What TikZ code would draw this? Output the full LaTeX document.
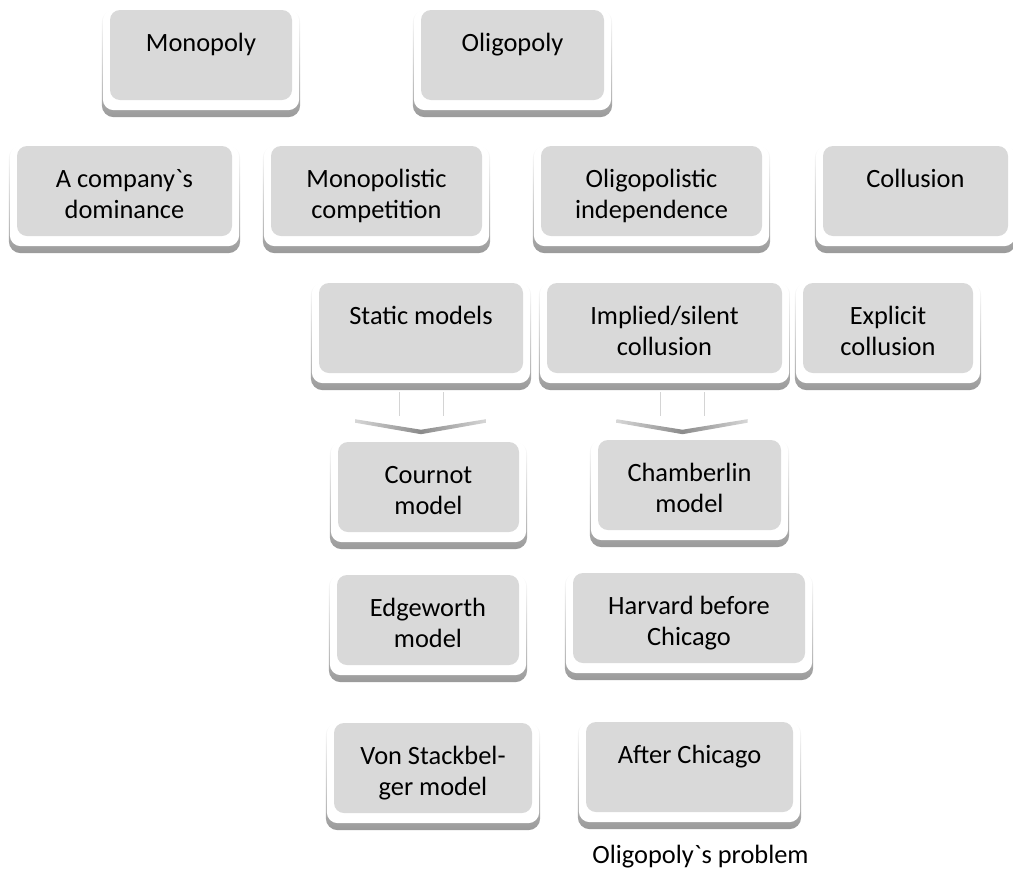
\documentclass[tikz,border=0pt]{standalone}
\usepackage{fontspec}
\setmainfont{Carlito}[Ligatures=TeXOff]
\usetikzlibrary{calc,backgrounds}
\definecolor{boxgray}{HTML}{D9D9D9}
\definecolor{shadowgray}{HTML}{9A9A9A}
\definecolor{shaftgray}{HTML}{D4D4D4}
% grey card text: top-anchored, centred, fixed height
\newcommand\cardtext[2]{\parbox[c][90pt][t]{#1}{\centering\rule{0pt}{41pt}#2\par}}
\begin{document}
\begin{tikzpicture}[x=1pt,y=-1pt,
  card/.style={fill=boxgray, rounded corners=10pt, inner sep=0pt,
    font=\fontsize{26.4}{31}\selectfont},
  shaftline/.style={draw=shaftgray, line width=1pt},
  downarrow/.pic={
    \draw[shaftline] (-22,19) -- (-22,43);
    \draw[shaftline] (22,19) -- (22,43);
    \shade[left color=shadowgray!40, right color=shadowgray!40, middle color=shadowgray!90!black]
      (-66,46) -- (0,56.5) -- (65,46) -- (65,49.5) -- (0,61) -- (-66,49.5) -- cycle;
  }]
\useasboundingbox (0,0) rectangle (1013,871);

% row 1
\node[card] (mono) at (201,55)   {\cardtext{182pt}{Monopoly}};
\node[card] (oli)  at (512.5,55) {\cardtext{183pt}{Oligopoly}};
% row 2
\node[card] (dom)   at (124.5,191) {\cardtext{215pt}{A company`s\\dominance}};
\node[card] (mcomp) at (376.5,191) {\cardtext{211pt}{Monopolistic\\competition}};
\node[card] (oind)  at (651.5,191) {\cardtext{221pt}{Oligopolistic\\independence}};
\node[card] (coll)  at (915.5,191) {\cardtext{185pt}{Collusion}};
% row 3
\node[card] (stat) at (421,328)   {\cardtext{204pt}{Static models}};
\node[card] (imp)  at (664.5,328) {\cardtext{235pt}{Implied/silent\\collusion}};
\node[card] (expl) at (888,328)   {\cardtext{170pt}{Explicit\\collusion}};
% rows 4--6
\node[card] (cour)  at (428.5,487) {\cardtext{181pt}{Cournot\\model}};
\node[card] (cham)  at (689.5,485) {\cardtext{183pt}{Chamberlin\\model}};
\node[card] (edge)  at (428,620)   {\cardtext{182pt}{Edgeworth\\model}};
\node[card] (harv)  at (689,618)   {\cardtext{232pt}{Harvard before\\Chicago}};
\node[card] (von)   at (433,768)   {\cardtext{198pt}{Von Stackbel-\\ger model}};
\node[card] (after) at (689.5,767) {\cardtext{207pt}{After Chicago}};

\node[font=\fontsize{26.4}{31}\selectfont, anchor=base, inner sep=0pt] (prob)
  at (700.5,863) {Oligopoly`s problem};

% white cards with soft shadow behind every grey box
\begin{scope}[on background layer]
  \foreach \n in {mono,oli,dom,mcomp,oind,coll,stat,imp,expl,cour,cham,edge,harv,von,after}{
    \shade[rounded corners=12pt, top color=white, middle color=shadowgray!12,
      bottom color=shadowgray]
      ($(\n.north west)+(-8,0)$) rectangle ($(\n.south east)+(8,17)$);
    \fill[white, rounded corners=11pt]
      ($(\n.north west)+(-7,0)$) rectangle ($(\n.south east)+(7,10)$);
  }
\end{scope}

% block arrows
\pic (arrA) at (stat.south) {downarrow};
\pic (arrB) at ($(imp.south)+(18,0)$) {downarrow};
\end{tikzpicture}
\end{document}
